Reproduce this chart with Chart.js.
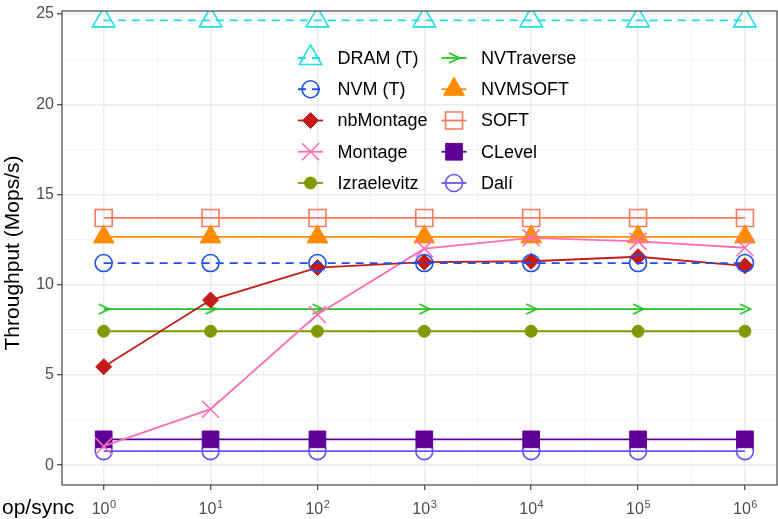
<!DOCTYPE html>
<html>
<head>
<meta charset="utf-8">
<script src="https://cdn.jsdelivr.net/npm/chart.js@4.4.1/dist/chart.umd.min.js"></script>
<style>
html, body { margin: 0; padding: 0; background: #fff; }
canvas { display: block; }
</style>
</head>
<body>
<canvas id="myChart" width="778" height="519"></canvas>
<script>
/* data */
const opsPerSync = [1, 10, 100, 1000, 10000, 100000, 1000000];
const xTickBase = '10';
const xTickExps = ['0', '1', '2', '3', '4', '5', '6'];
const yTickLabels = ['0', '5', '10', '15', '20', '25'];

const dramT       = [24.65, 24.65, 24.65, 24.65, 24.65, 24.65, 24.65];
const nvmT        = [11.2, 11.2, 11.2, 11.2, 11.2, 11.2, 11.2];
const nbMontage   = [5.45, 9.15, 10.95, 11.25, 11.3, 11.55, 11.05];
const montage     = [1.05, 3.1, 8.35, 12.0, 12.6, 12.4, 12.05];
const izraelevitz = [7.42, 7.42, 7.42, 7.42, 7.42, 7.42, 7.42];
const nvTraverse  = [8.65, 8.65, 8.65, 8.65, 8.65, 8.65, 8.65];
const nvmSoft     = [12.65, 12.65, 12.65, 12.65, 12.65, 12.65, 12.65];
const soft        = [13.7, 13.7, 13.7, 13.7, 13.7, 13.7, 13.7];
const cLevel      = [1.43, 1.43, 1.43, 1.43, 1.43, 1.43, 1.43];
const dali        = [0.78, 0.78, 0.78, 0.78, 0.78, 0.78, 0.78];

const FONT = "'Liberation Sans', Arial, sans-serif";
Chart.defaults.font.family = FONT;

/* ">" marker for NVTraverse */
const arrowMark = document.createElement('canvas');
arrowMark.width = 14; arrowMark.height = 14;
(function () {
  const c = arrowMark.getContext('2d');
  c.strokeStyle = '#22C322';
  c.lineWidth = 1.6;
  c.beginPath();
  c.moveTo(2, 2); c.lineTo(12.5, 7); c.lineTo(2, 12);
  c.stroke();
})();

const pts = (vals) => vals.map((v, i) => ({ x: opsPerSync[i], y: v }));

function series(label, vals, color, style, radius, open, dash) {
  return {
    label: label,
    data: pts(vals),
    borderColor: color,
    borderWidth: 1.8,
    borderDash: dash || [],
    pointStyle: style,
    pointRadius: radius,
    pointHoverRadius: radius,
    pointBorderWidth: open ? 1.6 : 1,
    pointBorderColor: color,
    pointBackgroundColor: open ? 'rgba(0,0,0,0)' : color,
    tension: 0,
    fill: false
  };
}

const datasets = [
  series('DRAM (T)', dramT, '#20DDE8', 'triangle', 13, true, [8, 6]),
  series('NVM (T)', nvmT, '#1F4FEA', 'circle', 8.5, true, [8, 6]),
  series('nbMontage', nbMontage, '#C41A1A', 'rectRot', 8, false),
  series('Montage', montage, '#FF6EB4', 'crossRot', 12, true),
  series('Izraelevitz', izraelevitz, '#7E9A00', 'circle', 6, false),
  series('NVTraverse', nvTraverse, '#22C322', arrowMark, 7, false),
  series('NVMSOFT', nvmSoft, '#FF8C00', 'triangle', 12, false),
  series('SOFT', soft, '#F87A5E', 'rect', 12, true),
  series('CLevel', cLevel, '#5E0096', 'rect', 11.8, false),
  series('Dal\u00ed', dali, '#6655F5', 'circle', 8.5, true)
];

const isMajorX = (v) => Math.abs(Math.log10(v) - Math.round(Math.log10(v))) < 1e-6;
const isMajorY = (v) => Math.abs(v / 5 - Math.round(v / 5)) < 1e-6;

/* panel border, axis titles, x tick labels with exponents, inside legend */
const decorations = {
  id: 'decorations',
  afterDraw(chart) {
    const ctx = chart.ctx, a = chart.chartArea;
    ctx.save();
    ctx.strokeStyle = '#333333';
    ctx.lineWidth = 1.1;
    ctx.strokeRect(a.left, a.top, a.right - a.left, a.bottom - a.top);

    // x tick labels: 10 with raised exponent
    const xs = chart.scales.x;
    ctx.fillStyle = '#4D4D4D';
    ctx.textBaseline = 'alphabetic';
    ctx.textAlign = 'left';
    opsPerSync.forEach((v, i) => {
      const px = xs.getPixelForValue(v);
      ctx.font = '16px ' + FONT;
      const wb = ctx.measureText(xTickBase).width;
      ctx.font = '11px ' + FONT;
      const we = ctx.measureText(xTickExps[i]).width;
      const x0 = px - (wb + we) / 2;
      ctx.font = '16px ' + FONT;
      ctx.fillText(xTickBase, x0, 514);
      ctx.font = '11px ' + FONT;
      ctx.fillText(xTickExps[i], x0 + wb + 0.5, 508);
    });

    ctx.fillStyle = '#000';
    ctx.font = '21px ' + FONT;
    ctx.fillText('op/sync', 2, 514);

    ctx.save();
    ctx.translate(19, 253);
    ctx.rotate(-Math.PI / 2);
    ctx.textAlign = 'center';
    ctx.font = '21px ' + FONT;
    ctx.fillText('Throughput (Mops/s)', 0, 0);
    ctx.restore();

    const colX = [310.5, 454];
    chart.data.datasets.forEach((ds, i) => {
      const cx = colX[Math.floor(i / 5)];
      const cy = 58 + (i % 5) * 31.25;
      ctx.strokeStyle = ds.borderColor;
      ctx.lineWidth = ds.borderWidth;
      ctx.setLineDash(ds.borderDash);
      ctx.beginPath();
      ctx.moveTo(cx - 12.5, cy);
      ctx.lineTo(cx + 12.5, cy);
      ctx.stroke();
      ctx.setLineDash([]);
      ctx.fillStyle = ds.pointBackgroundColor;
      ctx.strokeStyle = ds.pointBorderColor;
      ctx.lineWidth = ds.pointBorderWidth;
      Chart.helpers.drawPoint(ctx, {
        pointStyle: ds.pointStyle, radius: ds.pointRadius,
        borderWidth: ds.pointBorderWidth, rotation: 0
      }, cx, cy);
      ctx.fillStyle = '#000';
      ctx.font = '18px ' + FONT;
      ctx.textAlign = 'left';
      ctx.textBaseline = 'middle';
      ctx.fillText(ds.label, cx + 27, cy + 1);
    });
    ctx.restore();
  }
};

const ctx = document.getElementById('myChart').getContext('2d');
const myChart = new Chart(ctx, {
  type: 'line',
  data: { datasets: datasets },
  plugins: [decorations],
  options: {
    responsive: false,
    animation: false,
    layout: { autoPadding: false, padding: { top: 11, right: 1, left: 0, bottom: 0 } },
    plugins: { legend: { display: false }, tooltip: { enabled: false } },
    scales: {
      x: {
        type: 'logarithmic',
        min: Math.pow(10, -0.39),
        max: Math.pow(10, 6.3),
        afterBuildTicks: (scale) => {
          const t = [];
          for (let k = 0; k <= 12; k++) t.push({ value: Math.pow(10, k / 2) });
          scale.ticks = t;
        },
        afterFit: (scale) => {
          scale.height = 34;
          scale.paddingLeft = 0; scale.paddingRight = 0;
        },
        border: { display: false },
        grid: {
          color: (c) => isMajorX(c.tick.value) ? '#EBEBEB' : '#F3F3F3',
          lineWidth: (c) => isMajorX(c.tick.value) ? 1.5 : 0.9,
          tickColor: (c) => isMajorX(c.tick.value) ? '#333333' : 'rgba(0,0,0,0)',
          tickLength: 5,
          tickWidth: 1.1
        },
        ticks: {
          autoSkip: false,
          maxRotation: 0,
          callback: () => ''
        }
      },
      y: {
        type: 'linear',
        min: -1.1,
        max: 25.17,
        afterBuildTicks: (scale) => {
          const t = [];
          for (let k = 0; k <= 10; k++) t.push({ value: k * 2.5 });
          scale.ticks = t;
        },
        afterFit: (scale) => {
          scale.width = 62;
          scale.paddingTop = 0; scale.paddingBottom = 0;
        },
        border: { display: false },
        grid: {
          color: (c) => isMajorY(c.tick.value) ? '#EBEBEB' : '#F3F3F3',
          lineWidth: (c) => isMajorY(c.tick.value) ? 1.5 : 0.9,
          tickColor: (c) => isMajorY(c.tick.value) ? '#333333' : 'rgba(0,0,0,0)',
          tickLength: 5,
          tickWidth: 1.1
        },
        ticks: {
          autoSkip: false,
          padding: 3,
          color: '#4D4D4D',
          font: { size: 16 },
          callback: (v) => isMajorY(v) ? yTickLabels[Math.round(v / 5)] : ''
        }
      }
    }
  }
});
</script>
</body>
</html>
